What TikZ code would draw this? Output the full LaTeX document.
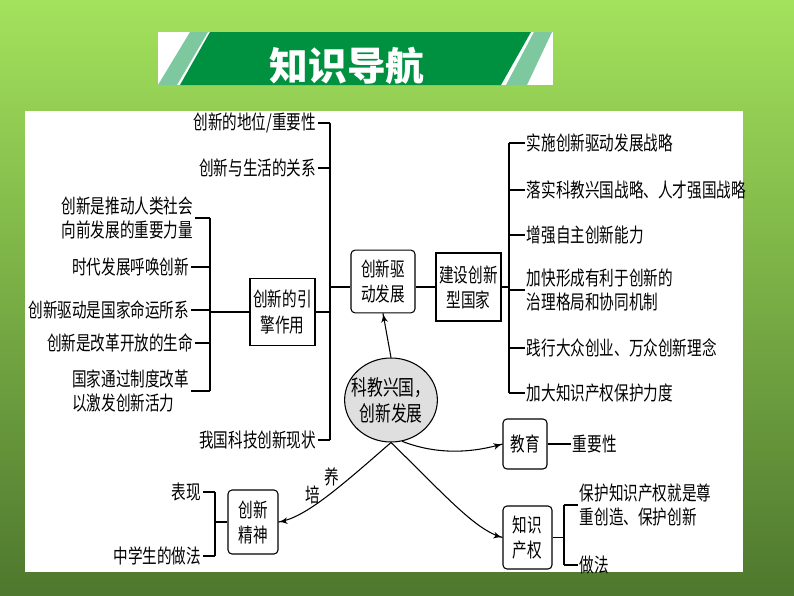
\documentclass[tikz,border=0pt]{standalone}
\usepackage{fontspec}
\setmainfont{Noto Sans CJK SC}[FakeStretch=0.74]
\newfontfamily\titlefont{Noto Sans CJK SC}
\usepackage{tikz}
\usetikzlibrary{arrows}
\usetikzlibrary{decorations.markings}
\usetikzlibrary{shapes.geometric}
\definecolor{bgtop}{RGB}{163,226,92}
\definecolor{bgbot}{RGB}{78,120,46}
\definecolor{bannergreen}{RGB}{0,145,64}
\definecolor{bannerstripe}{RGB}{126,200,160}
\tikzset{->/.style = {decoration={markings,
                                  mark=at position 1 with {\arrow[scale=1.3]{latex'}}},
                      postaction={decorate}}}
\tikzset{item/.style = {inner sep = 1pt, font = \fontsize{14.8}{18.5}\selectfont}}
\tikzset{ritem/.style = {item, anchor = east, align = right}}
\tikzset{litem/.style = {item, anchor = west, align = left}}
\tikzset{box/.style = {draw, fill = white, align = center, inner sep = 0pt,
                       font = \fontsize{14.8}{18.8}\selectfont}}
\tikzset{rbox/.style = {box, rounded corners = 3pt}}
\tikzset{core/.style = {ellipse, draw, fill = gray!25, align = center,
                        inner xsep = -5pt, inner ysep = 4pt,
                        minimum width = 69pt, minimum height = 63pt,
                        font = \fontsize{16}{19.5}\selectfont}}

\begin{document}
\begin{tikzpicture}[x=0.75pt, y=-0.75pt, line width=0.8pt]
      \useasboundingbox (0, 0) rectangle (794, 596);
      \shade [top color=bgtop, bottom color=bgbot] (0, 0) rectangle (794, 596);
      \fill [white] (25, 111) rectangle (743, 572);

      % title banner
      \fill [white] (158, 32) rectangle (553, 85);
      \fill [bannerstripe] (158, 85) -- (190, 32) -- (208, 32) -- (177, 85) -- cycle;
      \fill [bannergreen] (180, 85) -- (210, 32) -- (531, 32) -- (501, 85) -- cycle;
      \fill [bannerstripe] (506, 85) -- (534, 32) -- (552, 32) -- (527, 85) -- cycle;
      \node [text=white, font=\titlefont\bfseries\fontsize{29}{30}\selectfont] (title) at (347, 66) {知识导航};

      % boxes
      \node [box, minimum width=48.75pt, minimum height=50pt] (engine) at (282.5, 312) {创新的引\\擎作用};
      \node [rbox, minimum width=48pt, minimum height=47pt] (drive) at (383, 281.5) {创新驱\\动发展};
      \node [box, minimum width=48.75pt, minimum height=51pt] (build) at (468.5, 287) {建设创新\\型国家};
      \node [core] (core) at (391, 400) {科教兴国，\\创新发展};
      \node [rbox, minimum width=33pt, minimum height=37.5pt] (edu) at (525, 444) {教育};
      \node [rbox, minimum width=36.75pt, minimum height=47.25pt] (ip) at (527.5, 537.5) {知识\\产权};
      \node [rbox, minimum width=37.5pt, minimum height=48pt] (spirit) at (253, 522) {创新\\精神};

      % left items
      \node [ritem] (status) at (318, 123) {创新的地位/重要性};
      \node [ritem] (life) at (318, 168) {创新与生活的关系};
      \node [ritem] (force) at (195, 218) {创新是推动人类社会\\向前发展的重要力量};
      \node [ritem] (era) at (191, 267) {时代发展呼唤创新};
      \node [ritem] (nation) at (191, 310) {创新驱动是国家命运所系};
      \node [ritem] (reform) at (195, 343) {创新是改革开放的生命};
      \node [ritem, align=left] (system) at (191, 391) {国家通过制度改革\\以激发创新活力};
      \node [ritem] (current) at (318, 440) {我国科技创新现状};

      % right items
      \node [litem] (plan) at (525, 143) {实施创新驱动发展战略};
      \node [litem] (strategy) at (525, 190) {落实科教兴国战略、人才强国战略};
      \node [litem] (ability) at (525, 235) {增强自主创新能力};
      \node [litem] (mechanism) at (525, 290) {加快形成有利于创新的\\治理格局和协同机制};
      \node [litem] (practice) at (525, 348) {践行大众创业、万众创新理念};
      \node [litem] (protect) at (525, 393) {加大知识产权保护力度};

      % lower items
      \node [litem] (weight) at (571, 444) {重要性};
      \node [litem] (respect) at (578, 505) {保护知识产权就是尊\\重创造、保护创新};
      \node [litem] (method) at (578, 565) {做法};
      \node [ritem] (show) at (203, 492) {表现};
      \node [ritem] (pupil) at (203, 556) {中学生的做法};
      \node [item] (pei) at (313, 495) {培};
      \node [item] (yang) at (332, 477) {养};

      % buses
      \coordinate (busA) at (330, 123);
      \coordinate (busB) at (330, 440);
      \coordinate (busC) at (210, 218);
      \coordinate (busD) at (210, 391);
      \coordinate (busE) at (509, 143);
      \coordinate (busF) at (509, 393);
      \coordinate (busG) at (215, 492);
      \coordinate (busH) at (215, 556);
      \coordinate (busI) at (564, 505);
      \coordinate (busJ) at (564, 565);
      \draw (busA) -- (busB);
      \draw (busC) -- (busD);
      \draw (busE) -- (busF);
      \draw (busG) -- (busH);
      \draw (busI) -- (busJ);

      \foreach \n in {status, life, engine, current} {
        \draw (\n.east) -- (\n.east -| busA);
      }
      \foreach \n in {force, era, nation, reform, system} {
        \draw (\n.east) -- (\n.east -| busC);
      }
      \foreach \n in {plan, strategy, ability, mechanism, practice, protect} {
        \draw (\n.west -| busE) -- (\n.west);
      }
      \foreach \n in {show, pupil} {
        \draw (\n.east) -- (\n.east -| busG);
      }
      \foreach \n in {respect, method} {
        \draw (\n.west -| busI) -- (\n.west);
      }
      \draw (busC |- engine) -- (engine.west);
      \draw (busA |- build) -- (drive.west |- build);
      \draw (drive.east |- build) -- (build.west);
      \draw (build.east) -- (build.east -| busE);
      \draw (spirit.west) -- (spirit.west -| busG);
      \draw (ip.east) -- (ip.east -| busI);
      \draw (edu.east) -- (weight.west);

      % arrows from the core
      \draw [->] (core.north) -- (drive.south);
      \draw [->] (core.-75) .. controls (440, 456) and (475, 452) .. (edu.west);
      \draw [->] (core.south) .. controls (340, 487) and (305, 518) .. (spirit.east);
      \draw [->] (core.south) .. controls (445, 495) and (475, 530) .. (ip.west);

    \end{tikzpicture}
\end{document}
